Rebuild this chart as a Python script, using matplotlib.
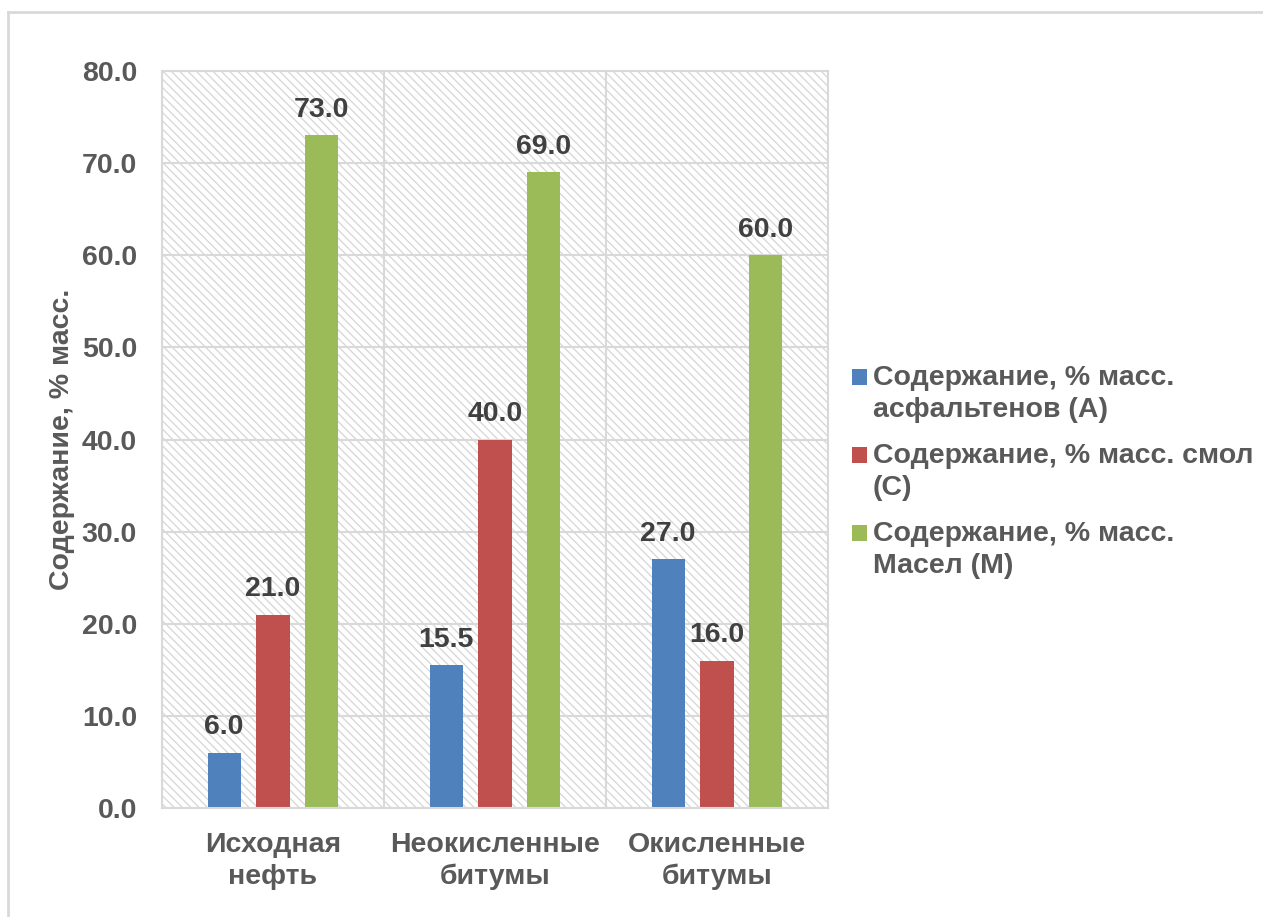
import matplotlib.pyplot as plt
import numpy as np
from matplotlib.patches import Rectangle
from matplotlib.lines import Line2D
from matplotlib.container import BarContainer
from matplotlib.legend_handler import HandlerPatch, update_from_first_child

plt.rcParams['font.family'] = ['Liberation Sans', 'DejaVu Sans']
plt.rcParams['font.weight'] = 'bold'
plt.rcParams['hatch.linewidth'] = 0.9

categories = ['Исходная\nнефть', 'Неокисленные\nбитумы', 'Окисленные\nбитумы']
asph = [6.0, 15.5, 27.0]
resins = [21.0, 40.0, 16.0]
oils = [73.0, 69.0, 60.0]
names = ['Содержание, % масс.\nасфальтенов (А)',
         'Содержание, % масс. смол\n(С)',
         'Содержание, % масс.\nМасел (М)']
colors = ['#4F81BD', '#C0504D', '#9BBB59']
grid_c = '#d9d9d9'
txt_c = '#595959'
fs = 20.5


def square(legend, orig_handle, xdescent, ydescent, width, height, fontsize):
    s = 0.55 * fontsize
    # square sits next to the first line of the two-line label
    return Rectangle((-xdescent + width - s, -ydescent + height / 2 + 0.6 * fontsize - s / 2), s, s)


fig = plt.figure(figsize=(12.63, 9.17), dpi=100)
ax = fig.add_axes([162 / 1263, 1 - 808 / 917, 666 / 1263, 737 / 917])

# hatched plot background
ax.add_patch(Rectangle((0, 0), 1, 1, transform=ax.transAxes, facecolor='white',
                       edgecolor='#d6d6d6', hatch='\\\\\\\\', lw=0, zorder=0))

x = np.arange(len(categories)) + 0.5
w = 0.15
off = 0.22
for i, (vals, nm) in enumerate(zip([asph, resins, oils], names)):
    bars = ax.bar(x + (i - 1) * off, vals, w, color=colors[i], label=nm, zorder=2)
    ax.bar_label(bars, fmt='%.1f', padding=9, fontsize=fs, color='#404040', fontweight='bold')

ax.set_xlim(0, 3)
ax.set_ylim(0, 80)
ax.set_yticks(np.arange(0, 81, 10))
ax.set_yticklabels(['%.1f' % v for v in np.arange(0, 81, 10)])
ax.set_xticks(x)
ax.set_xticklabels(categories, linespacing=1.3)
ax.set_xticks([0, 1, 2, 3], minor=True)
ax.tick_params(axis='both', which='both', length=0, labelsize=fs, labelcolor=txt_c)
ax.tick_params(axis='y', pad=18)
ax.tick_params(axis='x', pad=17)
ax.grid(axis='y', color=grid_c, lw=1.5, zorder=1)
ax.grid(axis='x', which='minor', color=grid_c, lw=1.5, zorder=1)
ax.set_axisbelow(True)
for s in ax.spines.values():
    s.set_color(grid_c)
    s.set_linewidth(1.5)

ax.set_ylabel('Содержание, % масс.', fontsize=fs, color=txt_c, fontweight='bold', labelpad=5)

leg = fig.legend(loc='center left', bbox_to_anchor=(826 / 1263, 1 - 472 / 917), frameon=False,
                 fontsize=fs, labelcolor=txt_c, handlelength=0.55, handleheight=0.6,
                 handletextpad=0.2, labelspacing=0.7,
                 handler_map={BarContainer: HandlerPatch(patch_func=square,
                                                         update_func=update_from_first_child)})
for t in leg.get_texts():
    t.set_fontweight('bold')
    t.set_linespacing(1.3)

# outer chart frame
fig.add_artist(Line2D([8 / 1263, 8 / 1263], [0, 1 - 12 / 917], transform=fig.transFigure,
                      color=grid_c, lw=2))
fig.add_artist(Line2D([8 / 1263, 1], [1 - 12 / 917, 1 - 12 / 917], transform=fig.transFigure,
                      color=grid_c, lw=2))

fig.savefig('out.png', dpi=100)
